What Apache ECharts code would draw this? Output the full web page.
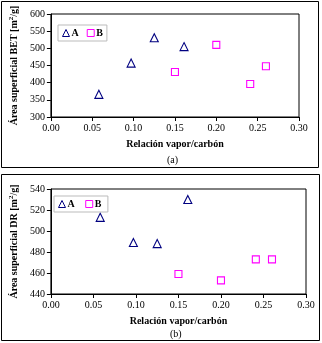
<!DOCTYPE html>
<html>
<head>
<meta charset="utf-8">
<script src="https://cdn.jsdelivr.net/npm/echarts@6/dist/echarts.min.js"></script>
<style>
  html, body { margin: 0; padding: 0; background: #fff; }
  #main { width: 322px; height: 343px; }
</style>
</head>
<body>
<div id="main"></div>
<script>
// data
var xA = [0.058, 0.097, 0.125, 0.161];
var xB = [0.150, 0.200, 0.241, 0.260];
var betA = [366, 457, 531, 505];
var betB = [431, 510, 396, 448];
var drA = [513, 489, 488, 530];
var drB = [459, 453, 473, 473];
var xTicks = [0, 0.05, 0.10, 0.15, 0.20, 0.25, 0.30];

function pairs(xs, ys) {
  return xs.map(function (x, i) { return [x, ys[i]]; });
}

var font = 'Liberation Serif, Times New Roman, serif';
var navy = '#000080';
var magenta = '#ff00ff';

function xAxisCfg(idx) {
  return {
    gridIndex: idx, type: 'value', min: 0, max: 0.3, interval: 0.05,
    name: 'Relación vapor/carbón', nameLocation: 'middle', nameGap: 22,
    nameTextStyle: { fontFamily: font, fontSize: 10, fontWeight: 'bold', color: '#000' },
    axisLine: { show: true, onZero: false, lineStyle: { color: '#000', width: 1 } },
    axisTick: { show: true, length: 4, lineStyle: { color: '#000' } },
    axisLabel: { fontFamily: font, fontSize: 10, color: '#000', margin: 6,
      formatter: function (v) { return v.toFixed(2); } },
    splitLine: { show: false }
  };
}

function yAxisCfg(idx, min, max, step, label) {
  return {
    gridIndex: idx, type: 'value', min: min, max: max, interval: step,
    name: label, nameLocation: 'middle', nameGap: 30, nameRotate: 90,
    nameTextStyle: { fontFamily: font, fontSize: 10, fontWeight: 'bold', color: '#000',
      rich: { sup: { fontFamily: font, fontSize: 7, fontWeight: 'bold', verticalAlign: 'top', padding: [0, 0, 5, 0] } } },
    axisLine: { show: true, onZero: false, lineStyle: { color: '#000', width: 1 } },
    axisTick: { show: true, length: 4, lineStyle: { color: '#000' } },
    axisLabel: { fontFamily: font, fontSize: 10, color: '#000', margin: 6 },
    splitLine: { show: false }
  };
}

function seriesCfg(name, xi, data, isA) {
  return {
    name: name, type: 'scatter', xAxisIndex: xi, yAxisIndex: xi,
    symbol: isA ? 'triangle' : 'rect',
    symbolSize: isA ? 8 : 7,
    itemStyle: { color: '#fff', borderColor: isA ? navy : magenta, borderWidth: 1.1, opacity: 1 },
    data: data
  };
}

function legendCfg(idx, left, top) {
  return {
    left: left, top: top, orient: 'horizontal',
    data: idx === 0 ? ['A', 'B'] : ['A ', 'B '],
    itemWidth: 7, itemHeight: 7, itemGap: 8,
    padding: [3, 4, 3, 4],
    borderColor: '#bbb', borderWidth: 1,
    itemStyle: { borderWidth: 1 },
    textStyle: { fontFamily: font, fontSize: 10, fontWeight: 'bold', color: '#000', padding: [0, 0, 0, -3] }
  };
}

var chart = echarts.init(document.getElementById('main'), null, { renderer: 'canvas' });
chart.setOption({
  animation: false,
  backgroundColor: '#fff',
  grid: [
    { left: 48, top: 14, width: 251, height: 103, show: true, borderColor: '#000', borderWidth: 1, backgroundColor: 'transparent' },
    { left: 49, top: 189, width: 257, height: 105, show: true, borderColor: '#000', borderWidth: 1, backgroundColor: 'transparent' }
  ],
  xAxis: [xAxisCfg(0), xAxisCfg(1)],
  yAxis: [
    yAxisCfg(0, 300, 600, 50, 'Área superficial BET [m{sup|2}/g]'),
    yAxisCfg(1, 440, 540, 20, 'Área superficial DR [m{sup|2}/g]')
  ],
  legend: [legendCfg(0, 58, 25), legendCfg(1, 54, 196)],
  series: [
    seriesCfg('A', 0, pairs(xA, betA), true),
    seriesCfg('B', 0, pairs(xB, betB), false),
    seriesCfg('A ', 1, pairs(xA, drA), true),
    seriesCfg('B ', 1, pairs(xB, drB), false)
  ],
  graphic: [
    { type: 'rect', shape: { x: 1.5, y: 1.5, width: 317, height: 166 }, style: { fill: 'none', stroke: '#000', lineWidth: 1 }, z: 100 },
    { type: 'rect', shape: { x: 1.5, y: 174.5, width: 318, height: 166 }, style: { fill: 'none', stroke: '#000', lineWidth: 1 }, z: 100 },
    { type: 'text', left: 167, top: 155, style: { text: '(a)', fontFamily: font, fontSize: 10, fill: '#000', textAlign: 'center' } },
    { type: 'text', left: 170, top: 329, style: { text: '(b)', fontFamily: font, fontSize: 10, fill: '#000', textAlign: 'center' } }
  ]
});
</script>
</body>
</html>
